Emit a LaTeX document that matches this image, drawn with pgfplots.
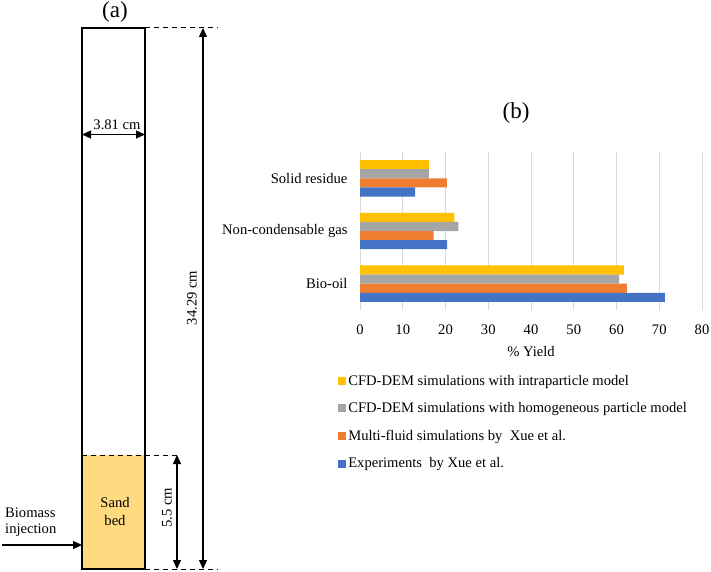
\documentclass[border=0pt]{standalone}
\usepackage{fontspec}
\setmainfont{Liberation Serif}
\usepackage{pgfplots}
\pgfplotsset{compat=1.18}
\usetikzlibrary{arrows.meta}
\definecolor{cyellow}{HTML}{FFC000}
\definecolor{cgray}{HTML}{A5A5A5}
\definecolor{corange}{HTML}{ED7D31}
\definecolor{cblue}{HTML}{4472C4}
\definecolor{sand}{HTML}{FFDA80}
\definecolor{gridc}{HTML}{D9D9D9}
\newcommand{\lblfont}{\fontsize{14.6}{16}\selectfont}
\begin{document}
\begin{tikzpicture}[
  dim/.style={line width=1.3pt,{Triangle[length=9pt,width=8pt]}-{Triangle[length=9pt,width=8pt]}},
  dsh/.style={line width=1pt,dash pattern=on 5pt off 4pt},
  lbl/.style={font=\lblfont,inner sep=0pt}]
\path[use as bounding box] (0,0) rectangle (711pt,-572pt);
% (a) column
\begin{scope}[x=1pt,y=-1pt]
\fill[sand] (82,455) rectangle (145,569);
\draw[line width=1.3pt] (82,28) rectangle (145,569);
\draw[dsh] (82,455) -- (181,455);
\draw[dsh] (145,28) -- (218,28);
\draw[dsh] (145,569) -- (218,569);
\draw[dim] (82,134.5) -- (145,134.5);
\draw[dim] (203,28) -- (203,569);
\draw[dim] (177,455) -- (177,569);
\draw[line width=1.3pt,-{Triangle[length=9pt,width=8pt]}] (2,545) -- (82,545);
\node[font=\fontsize{23}{25}\selectfont,inner sep=0pt] at (115,12) {(a)};
\node[lbl] at (117,125) {3.81 cm};
\node[lbl,rotate=90] at (192,298) {34.29 cm};
\node[lbl,rotate=90] at (167,508) {5.5 cm};
\node[lbl] at (115,503) {Sand};
\node[lbl] at (115,521) {bed};
\node[lbl,anchor=west] at (5,513) {Biomass};
\node[lbl,anchor=west] at (5,530) {injection};
\node[font=\fontsize{23}{25}\selectfont,inner sep=0pt] at (516,113) {(b)};
\end{scope}
% (b) chart
\begin{axis}[
  at={(360pt,-310pt)},anchor=south west,
  scale only axis,width=342pt,height=158pt,
  xmin=0,xmax=80,ymin=-0.5,ymax=2.5,
  xtick={0,10,...,80},ytick={0,1,2},
  yticklabels={Bio-oil,Non-condensable gas,Solid residue},
  /pgf/number format/assume math mode=true,
  axis line style={draw=none},
  axis x line*=bottom,axis y line*=left,
  major tick length=0pt,
  xmajorgrids,grid style={gridc,line width=0.9pt},
  ticklabel style={font=\lblfont},
  yticklabel style={xshift=-9pt},
  xticklabel style={yshift=-11pt},
  xlabel={\% Yield},
  xlabel style={font=\lblfont,yshift=-5pt},
  xbar,bar width=9.1pt,
  legend style={at={(-0.064,-0.398)},anchor=north west,draw=none,fill=none,
    font=\lblfont,row sep=11.9pt,inner sep=0pt},
  legend cell align={left},
  legend image code/.code={\fill[#1] (0pt,-4pt) rectangle (8pt,4pt);},
]
\addplot[draw=none,fill=cyellow,bar shift=13.65pt] coordinates {(61.7,0) (22.1,1) (16.1,2)};
\addlegendentry{CFD-DEM simulations with intraparticle model}
\addplot[draw=none,fill=cgray,bar shift=4.55pt] coordinates {(60.6,0) (23.0,1) (16.1,2)};
\addlegendentry{CFD-DEM simulations with homogeneous particle model}
\addplot[draw=none,fill=corange,bar shift=-4.55pt] coordinates {(62.4,0) (17.2,1) (20.3,2)};
\addlegendentry{Multi-fluid simulations by\ \ Xue et al.}
\addplot[draw=none,fill=cblue,bar shift=-13.65pt] coordinates {(71.3,0) (20.4,1) (12.9,2)};
\addlegendentry{Experiments\ \ by Xue et al.}
\end{axis}
\end{tikzpicture}
\end{document}
